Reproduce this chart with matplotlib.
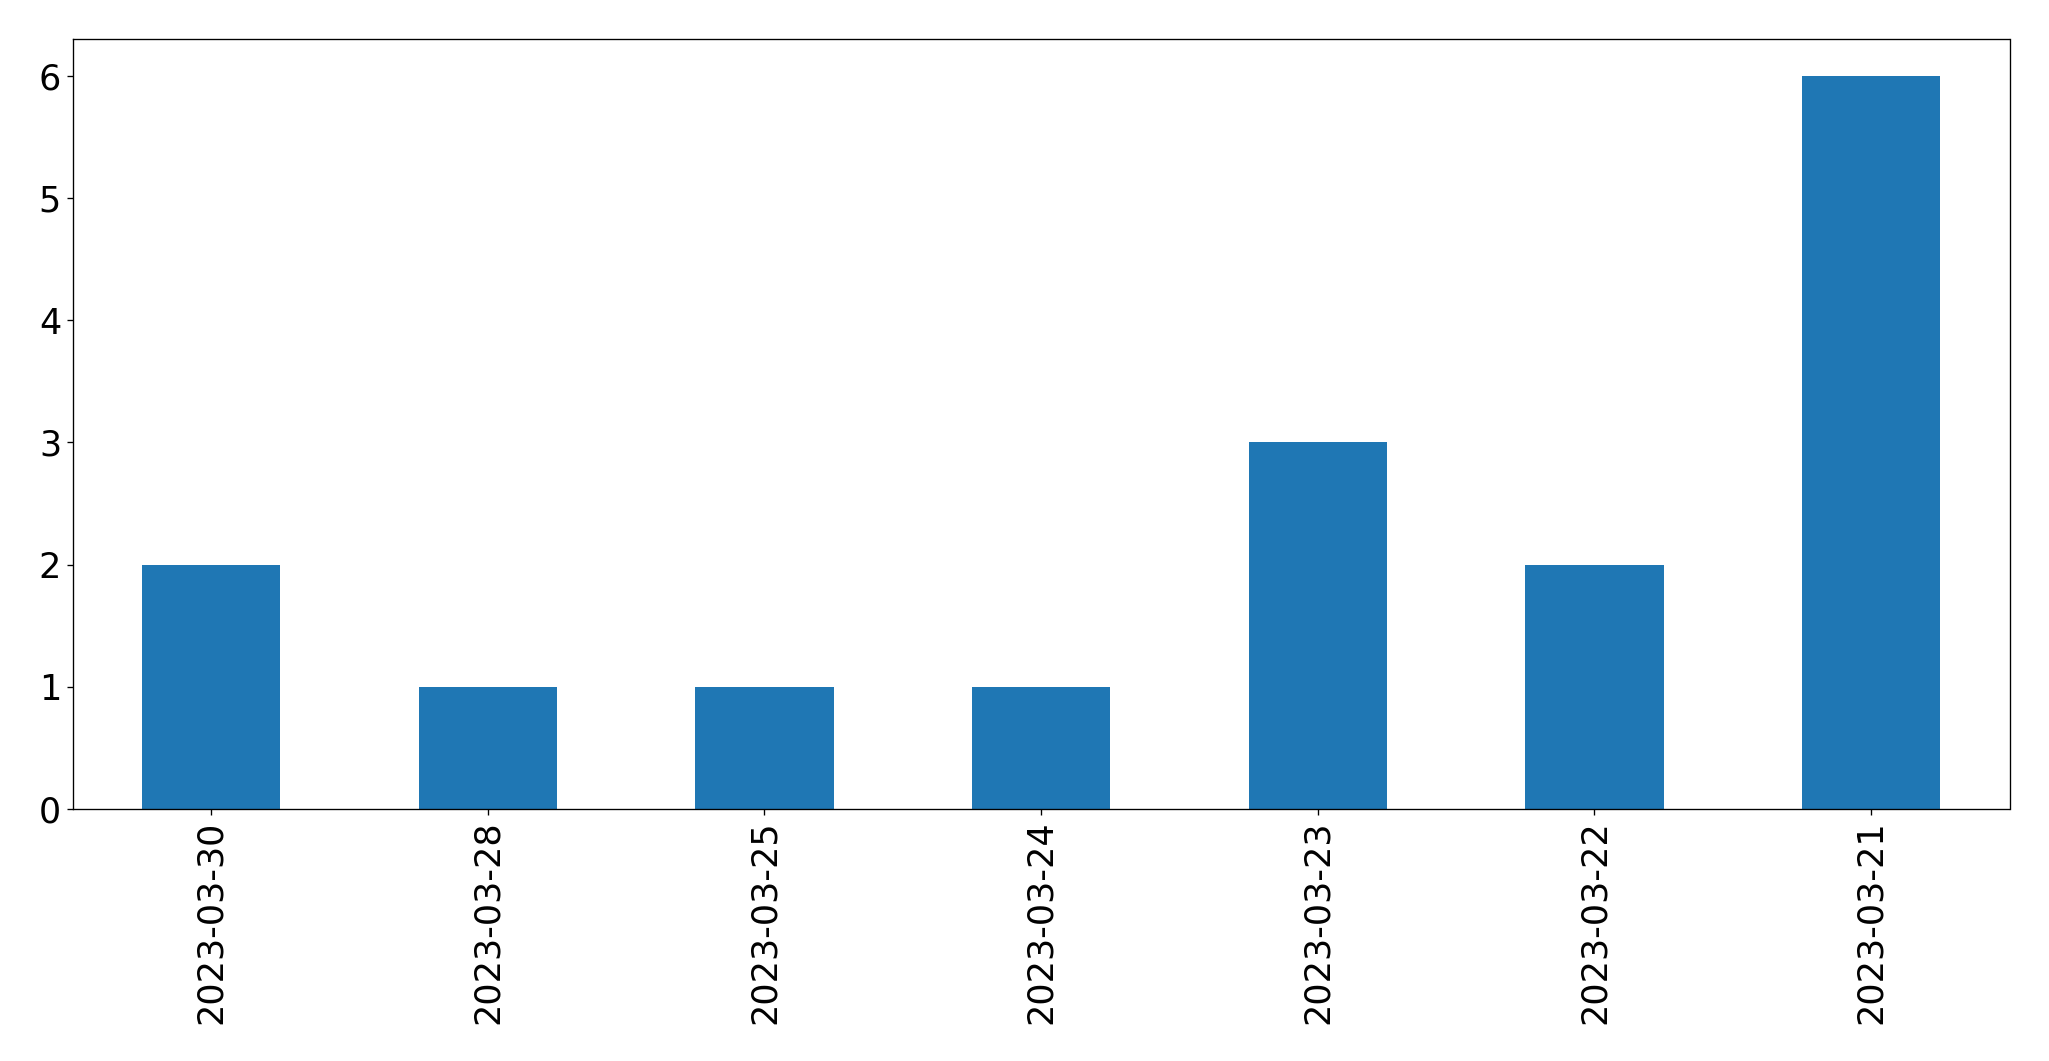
import matplotlib
matplotlib.use("Agg")
import matplotlib.pyplot as plt

dates = ["2023-03-30", "2023-03-28", "2023-03-25", "2023-03-24",
         "2023-03-23", "2023-03-22", "2023-03-21"]
counts = [2, 1, 1, 1, 3, 2, 6]

fig, ax = plt.subplots(figsize=(2049/120, 1061/120), dpi=120)
fig.subplots_adjust(left=72.7/2049, right=2009.5/2049, top=1-39.3/1061, bottom=1-809/1061)

x = list(range(len(dates)))
ax.bar(x, counts, width=0.5, color="#1f77b4")
ax.set_xlim(-0.5, len(dates)-0.5)
ax.set_xticks(x)
ax.set_xticklabels(dates, rotation=90)
ax.tick_params(labelsize=21)

fig.savefig("out.png", dpi=120)
